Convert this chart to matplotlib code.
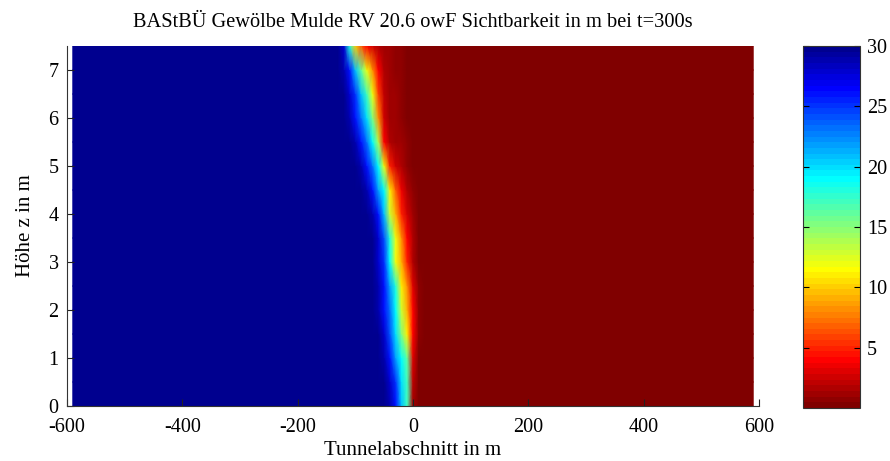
import numpy as np
import matplotlib
matplotlib.use("Agg")
import matplotlib.pyplot as plt
from matplotlib.colors import ListedColormap

# ---- data (visibility in m) ----
x_cols = [-590, -130, -120, -110, -100, -90, -80, -70, -60, -50, -40, -30, -20, -10, 0, 10, 20, 590]
z_rows = [0.0, 0.5, 1.0, 1.5, 2.0, 2.5, 3.0, 3.5, 4.0, 4.5, 5.0, 5.5, 6.0, 6.5, 7.0, 7.5]

vis_z00 = [30, 30, 30, 30, 30, 30, 30, 30, 30, 30, 29, 26, 21, 17, 1.0, 0, 0, 0]
vis_z05 = [30, 30, 30, 30, 30, 30, 30, 30, 30, 30, 28, 25, 20, 17, 2.0, 0, 0, 0]
vis_z10 = [30, 30, 30, 30, 30, 30, 30, 30, 30, 29, 26, 22, 19, 16, 3.0, 0, 0, 0]
vis_z15 = [30, 30, 30, 30, 30, 30, 30, 30, 30, 28, 24, 20, 15, 11, 4.0, 0.5, 0, 0]
vis_z20 = [30, 30, 30, 30, 30, 30, 30, 30, 29, 26, 23, 19, 13, 9, 4.0, 0.5, 0, 0]
vis_z25 = [30, 30, 30, 30, 30, 30, 30, 30, 29, 26, 22, 18, 11, 8, 3.0, 0.5, 0, 0]
vis_z30 = [30, 30, 30, 30, 30, 30, 30, 30, 28, 25, 19, 12, 9, 5, 1.5, 0, 0, 0]
vis_z35 = [30, 30, 30, 30, 30, 30, 30, 30, 28, 24, 18, 12, 8, 4, 1.5, 0, 0, 0]
vis_z40 = [30, 30, 30, 30, 30, 30, 30, 29, 26, 21, 13, 9, 5, 2.5, 1.0, 0, 0, 0]
vis_z45 = [30, 30, 30, 30, 30, 30, 29, 26, 22, 19, 11, 7, 3.5, 1.5, 0.5, 0, 0, 0]
vis_z50 = [30, 30, 30, 30, 30, 29, 26, 23, 19, 12, 5, 2.5, 1.5, 0.7, 0, 0, 0, 0]
vis_z55 = [30, 30, 30, 30, 29, 26, 23, 19, 14, 4, 1.5, 1.2, 1.0, 0.5, 0, 0, 0, 0]
vis_z60 = [30, 30, 30, 29, 26, 23, 20, 15, 8, 2.5, 1.2, 1.0, 0.8, 0.4, 0, 0, 0, 0]
vis_z65 = [30, 30, 30, 28, 25, 21, 17, 12, 6, 2.0, 1.2, 1.0, 0.7, 0.3, 0, 0, 0, 0]
vis_z70 = [30, 30, 29, 26, 21, 16, 12, 8, 4, 1.5, 1.0, 0.8, 0.5, 0.3, 0, 0, 0, 0]
vis_z75 = [30, 30, 28, 18, 10, 7, 4, 2.5, 1.5, 1.2, 1.0, 0.8, 0.5, 0.3, 0, 0, 0, 0]

cbar_ticks = [5, 10, 15, 20, 25, 30]
x_ticks = [-600, -400, -200, 0, 200, 400, 600]
y_ticks = [0, 1, 2, 3, 4, 5, 6, 7]


def matlab_jet(m=64):
    n = int(np.ceil(m / 4))
    u = np.concatenate([np.arange(1, n + 1) / n, np.ones(n - 1), np.arange(n, 0, -1) / n])
    g = int(np.ceil(n / 2)) - (1 if m % 4 == 1 else 0) + np.arange(1, len(u) + 1)
    r = g + n
    b = g - n
    J = np.zeros((m, 3))
    for idx, col in ((r, 0), (g, 1), (b, 2)):
        keep = (idx >= 1) & (idx <= m)
        J[idx[keep] - 1, col] = u[keep]
    return J


cmap = ListedColormap(matlab_jet(64)[::-1])

V = np.array([vis_z00, vis_z05, vis_z10, vis_z15, vis_z20, vis_z25, vis_z30, vis_z35,
              vis_z40, vis_z45, vis_z50, vis_z55, vis_z60, vis_z65, vis_z70, vis_z75], dtype=float)
X, Z = np.meshgrid(np.array(x_cols, float), np.array(z_rows, float))

plt.rcParams['font.family'] = ['Liberation Serif', 'DejaVu Serif']
plt.rcParams['axes.unicode_minus'] = False

fig = plt.figure(figsize=(8.9, 4.61), dpi=100)
ax = fig.add_axes([0.0753, 0.1193, 0.7775, 0.7809])
mesh = ax.pcolormesh(X, Z, V, shading='gouraud', cmap=cmap, vmin=0, vmax=30, rasterized=True)

ax.set_xlim(-600, 600)
ax.set_ylim(0, 7.5)
ax.set_xticks(x_ticks)
ax.set_yticks(y_ticks)
ax.tick_params(direction='in', length=5, width=0.8, labelsize=14.5, colors='#222222', labelcolor='black')
ax.tick_params(axis='x', pad=8.5)
ax.tick_params(axis='y', pad=6)
for s in ('top', 'right'):
    ax.spines[s].set_visible(False)
for s in ('left', 'bottom'):
    ax.spines[s].set_color('#333333')
    ax.spines[s].set_linewidth(0.8)

ax.set_title('BAStBÜ Gewölbe Mulde RV 20.6 owF Sichtbarkeit in m bei t=300s', fontsize=14.7, pad=14)
ax.set_xlabel('Tunnelabschnitt in m', fontsize=15, labelpad=3)
ax.set_ylabel('Höhe z in m', fontsize=15, labelpad=10)

cax = fig.add_axes([0.9022, 0.115, 0.0640, 0.785])
cb = fig.colorbar(mesh, cax=cax, ticks=cbar_ticks)
cb.ax.tick_params(direction='in', length=4, width=0.8, labelsize=14.5, left=True, right=True, pad=5)
cb.outline.set_edgecolor('#333333')
cb.outline.set_linewidth(0.8)

fig.savefig('out.png', dpi=100)
